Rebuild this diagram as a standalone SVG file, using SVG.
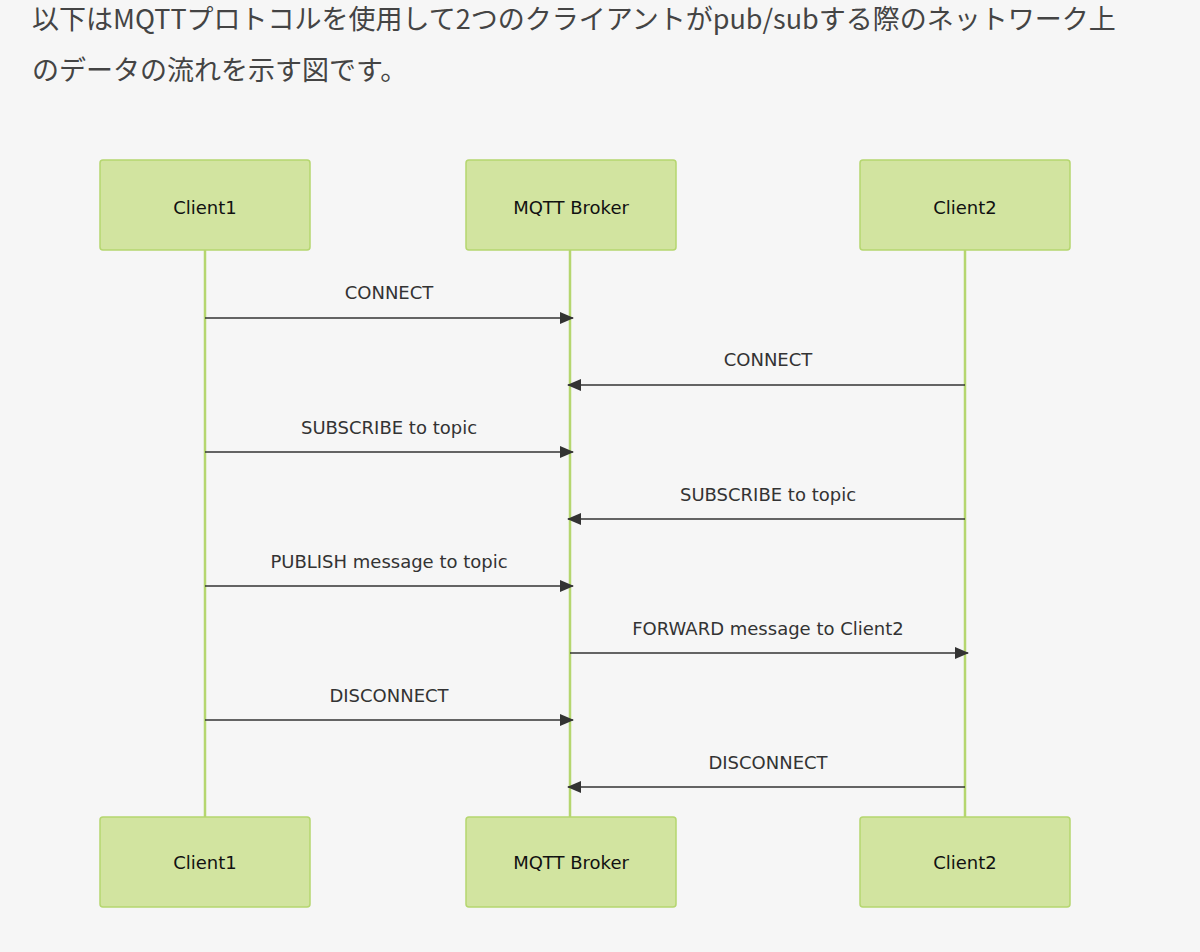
<svg xmlns="http://www.w3.org/2000/svg" width="1200" height="952" viewBox="0 0 1200 952">
<style>
.box{fill:#d2e4a0;stroke:#b5d66f;stroke-width:1.5}
.nt{font-family:"DejaVu Sans",sans-serif;font-size:18px;fill:#111;text-anchor:middle;dominant-baseline:central}
.life{stroke:#b5d66f;stroke-width:2.5}
.msg{stroke:#333;stroke-width:1.5;fill:none;marker-end:url(#ah)}
.ml{font-family:"DejaVu Sans",sans-serif;font-size:18px;fill:#333;text-anchor:middle}
.title{font-family:"Noto Sans CJK JP","Noto Sans",sans-serif;font-size:27px;fill:#444}
</style>
<defs><marker id="ah" viewBox="0 0 14 12" refX="13" refY="6" markerWidth="14" markerHeight="12" markerUnits="userSpaceOnUse" orient="auto"><path d="M0,0 L14,6 L0,12 z" fill="#333"/></marker></defs>
<rect width="1200" height="952" fill="#f6f6f6"/>
<text class="title" x="32" y="29">以下はMQTTプロトコルを使用して2つのクライアントがpub/subする際のネットワーク上</text>
<text class="title" x="32" y="80">のデータの流れを示す図です。</text>
<g id="lifelines">
<line class="life" x1="205" y1="250" x2="205" y2="817"/>
<line class="life" x1="570" y1="250" x2="570" y2="817"/>
<line class="life" x1="965" y1="250" x2="965" y2="817"/>
</g>
<g id="client1-top"><rect class="box" x="100" y="160" width="210" height="90" rx="3"/><text class="nt" x="205" y="207">Client1</text></g>
<g id="broker-top"><rect class="box" x="466" y="160" width="210" height="90" rx="3"/><text class="nt" x="571" y="207">MQTT Broker</text></g>
<g id="client2-top"><rect class="box" x="860" y="160" width="210" height="90" rx="3"/><text class="nt" x="965" y="207">Client2</text></g>
<g id="client1-bottom"><rect class="box" x="100" y="817" width="210" height="90" rx="3"/><text class="nt" x="205" y="862">Client1</text></g>
<g id="broker-bottom"><rect class="box" x="466" y="817" width="210" height="90" rx="3"/><text class="nt" x="571" y="862">MQTT Broker</text></g>
<g id="client2-bottom"><rect class="box" x="860" y="817" width="210" height="90" rx="3"/><text class="nt" x="965" y="862">Client2</text></g>
<g id="connectors">
<line class="msg" x1="205" y1="318" x2="573" y2="318"/><text class="ml" x="389" y="299">CONNECT</text>
<line class="msg" x1="965" y1="385" x2="568" y2="385"/><text class="ml" x="768" y="366">CONNECT</text>
<line class="msg" x1="205" y1="452" x2="573" y2="452"/><text class="ml" x="389" y="434">SUBSCRIBE to topic</text>
<line class="msg" x1="965" y1="519" x2="568" y2="519"/><text class="ml" x="768" y="501">SUBSCRIBE to topic</text>
<line class="msg" x1="205" y1="586" x2="573" y2="586"/><text class="ml" x="389" y="568">PUBLISH message to topic</text>
<line class="msg" x1="570" y1="653" x2="968" y2="653"/><text class="ml" x="768" y="635">FORWARD message to Client2</text>
<line class="msg" x1="205" y1="720" x2="573" y2="720"/><text class="ml" x="389" y="702">DISCONNECT</text>
<line class="msg" x1="965" y1="787" x2="568" y2="787"/><text class="ml" x="768" y="769">DISCONNECT</text>
</g>
</svg>
